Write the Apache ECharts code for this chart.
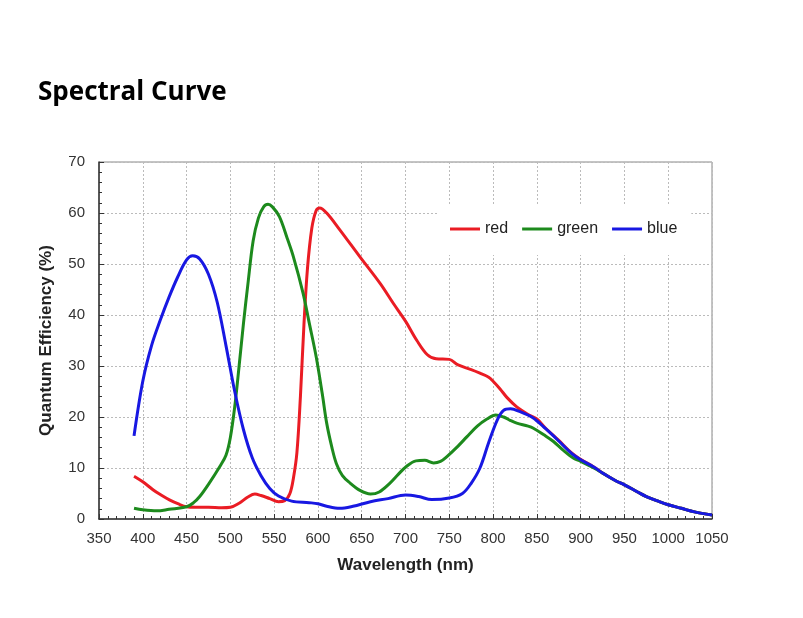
<!DOCTYPE html>
<html>
<head>
<meta charset="utf-8">
<script src="https://cdn.jsdelivr.net/npm/echarts@6/dist/echarts.min.js"></script>
<style>html,body{margin:0;padding:0;background:#fff;}#c{width:803px;height:618px;}</style>
</head>
<body>
<div id="c"></div>
<script>
var titleText = 'Spectral Curve';
var xName = 'Wavelength (nm)';
var yName = 'Quantum Efficiency (%)';
var seriesNames = ['red', 'green', 'blue'];

var redX = [390,400,412,420,431,440,450,460,475,490,500,510,520,528,535,545,555,562,568,572,576,580,584,588,593,598,602,610,625,648,671,686,700,713,725,735,750,760,775,785,795,800,808,816,827,840,850,860,875,890,900,915,925,940,950,965,975,990,1000,1015,1030,1050];
var redY = [8.4,7.3,5.7,4.8,3.7,3.0,2.4,2.3,2.3,2.2,2.3,3.1,4.3,4.9,4.6,4.0,3.4,3.6,5.0,8,13,24,38,49,57,60.5,61,60,56.7,51.4,46.2,42.3,38.8,35,32.2,31.4,31.3,30.2,29.3,28.6,27.8,27,25.5,23.8,22,20.5,19.6,17.8,15.4,12.9,11.7,10.2,9.0,7.5,6.7,5.3,4.4,3.4,2.8,2.1,1.4,0.8];

var greenX = [390,400,416,430,450,458,465,475,488,495,500,505,510,515,520,526,532,538,543,548,556,565,572,583,590,598,605,610,616,621,628,637,648,660,670,682,692,701,712,722,732,740,747,760,770,782,793,803,812,820,827,840,846,858,869,880,892,900,915,925,940,950,965,975,990,1000,1015,1030,1050];
var greenY = [2.1,1.8,1.6,1.9,2.4,3.2,4.4,6.8,10.3,12.5,16,22,30,38.4,46,54.5,59,61.2,61.7,61.2,59.3,55,51.4,44.3,38.5,31.8,24.5,18.8,14,10.9,8.5,7,5.6,4.9,5.3,7,8.8,10.3,11.4,11.5,11.0,11.3,12.2,14.3,16.1,18.2,19.6,20.4,20,19.3,18.8,18.2,17.8,16.5,15.2,13.5,11.9,11.3,10.0,9.0,7.5,6.7,5.3,4.4,3.4,2.8,2.1,1.4,0.8];

var blueX = [390,400,410,420,430,440,450,457,465,475,485,495,505,515,525,535,545,555,570,590,600,610,625,640,660,680,700,715,730,750,765,775,785,795,805,812,820,830,845,860,875,890,900,915,925,940,950,965,975,990,1000,1015,1030,1050];
var blueY = [16.3,27,34,39,43.5,47.5,50.8,51.6,51,48,42.5,34,25,17.5,12,8.5,6,4.5,3.5,3.2,3.0,2.5,2.1,2.5,3.4,4.0,4.7,4.4,3.8,4.1,5,7,10,15,19.5,21.3,21.6,21.1,19.9,17.7,15.3,12.8,11.6,10.2,9.0,7.5,6.7,5.3,4.4,3.4,2.8,2.1,1.4,0.8];

var xMin = 350, xMax = 1050, xStep = 50;
var yMin = 0, yMax = 70, yStep = 10;

function pairs(xs, ys) { return xs.map(function (x, i) { return [x, ys[i]]; }); }

var colors = ['#ea1c24', '#1d8a1d', '#1818e2'];
var chart = echarts.init(document.getElementById('c'));
var lineSeries = [pairs(redX, redY), pairs(greenX, greenY), pairs(blueX, blueY)].map(function (d, i) {
  return {
    name: seriesNames[i], type: 'line', data: d, smooth: 0.35, showSymbol: false,
    lineStyle: { width: 3, color: colors[i] }, itemStyle: { color: colors[i] }
  };
});

chart.setOption({
  animation: false,
  backgroundColor: '#fff',
  title: {
    text: titleText, left: 33, top: 75,
    textStyle: { fontFamily: 'Open Sans', fontWeight: 'bold', fontSize: 26, color: '#000' }
  },
  legend: {
    data: seriesNames, left: 437, top: 205,
    backgroundColor: '#fff', padding: [16, 14, 18, 13],
    itemWidth: 30, itemHeight: 3, itemGap: 14,
    icon: 'rect',
    textStyle: { fontFamily: 'Liberation Sans', fontSize: 16, color: '#222' }
  },
  grid: { left: 99, right: 91, top: 162, bottom: 99, show: true, borderColor: '#888', borderWidth: 1 },
  xAxis: {
    type: 'value', min: xMin, max: xMax, interval: xStep,
    name: xName, nameLocation: 'middle', nameGap: 38,
    nameTextStyle: { fontFamily: 'Liberation Sans', fontWeight: 'bold', fontSize: 17, color: '#222' },
    axisLine: { show: true, lineStyle: { color: '#333', width: 1.5 } },
    axisTick: { show: true, inside: true, length: 5, lineStyle: { color: '#333' } },
    minorTick: { show: true, splitNumber: 5, length: 3, lineStyle: { color: '#333' } },
    axisLabel: { fontFamily: 'Liberation Sans', fontSize: 15, color: '#333', margin: 12,
      formatter: function (v) { return String(v); } },
    splitLine: { show: true, lineStyle: { color: '#bbb', type: [2, 2], width: 1 } }
  },
  yAxis: {
    type: 'value', min: yMin, max: yMax, interval: yStep,
    name: yName, nameLocation: 'middle', nameGap: 44, nameRotate: 90,
    nameTextStyle: { fontFamily: 'Liberation Sans', fontWeight: 'bold', fontSize: 17, color: '#222' },
    axisLine: { show: true, lineStyle: { color: '#333', width: 1.5 } },
    axisTick: { show: true, inside: true, length: 5, lineStyle: { color: '#333' } },
    minorTick: { show: true, splitNumber: 5, length: 3, lineStyle: { color: '#333' } },
    axisLabel: { fontFamily: 'Liberation Sans', fontSize: 15, color: '#333', margin: 14 },
    splitLine: { show: true, lineStyle: { color: '#bbb', type: [2, 2], width: 1 } }
  },
  series: lineSeries
});
</script>
</body>
</html>
